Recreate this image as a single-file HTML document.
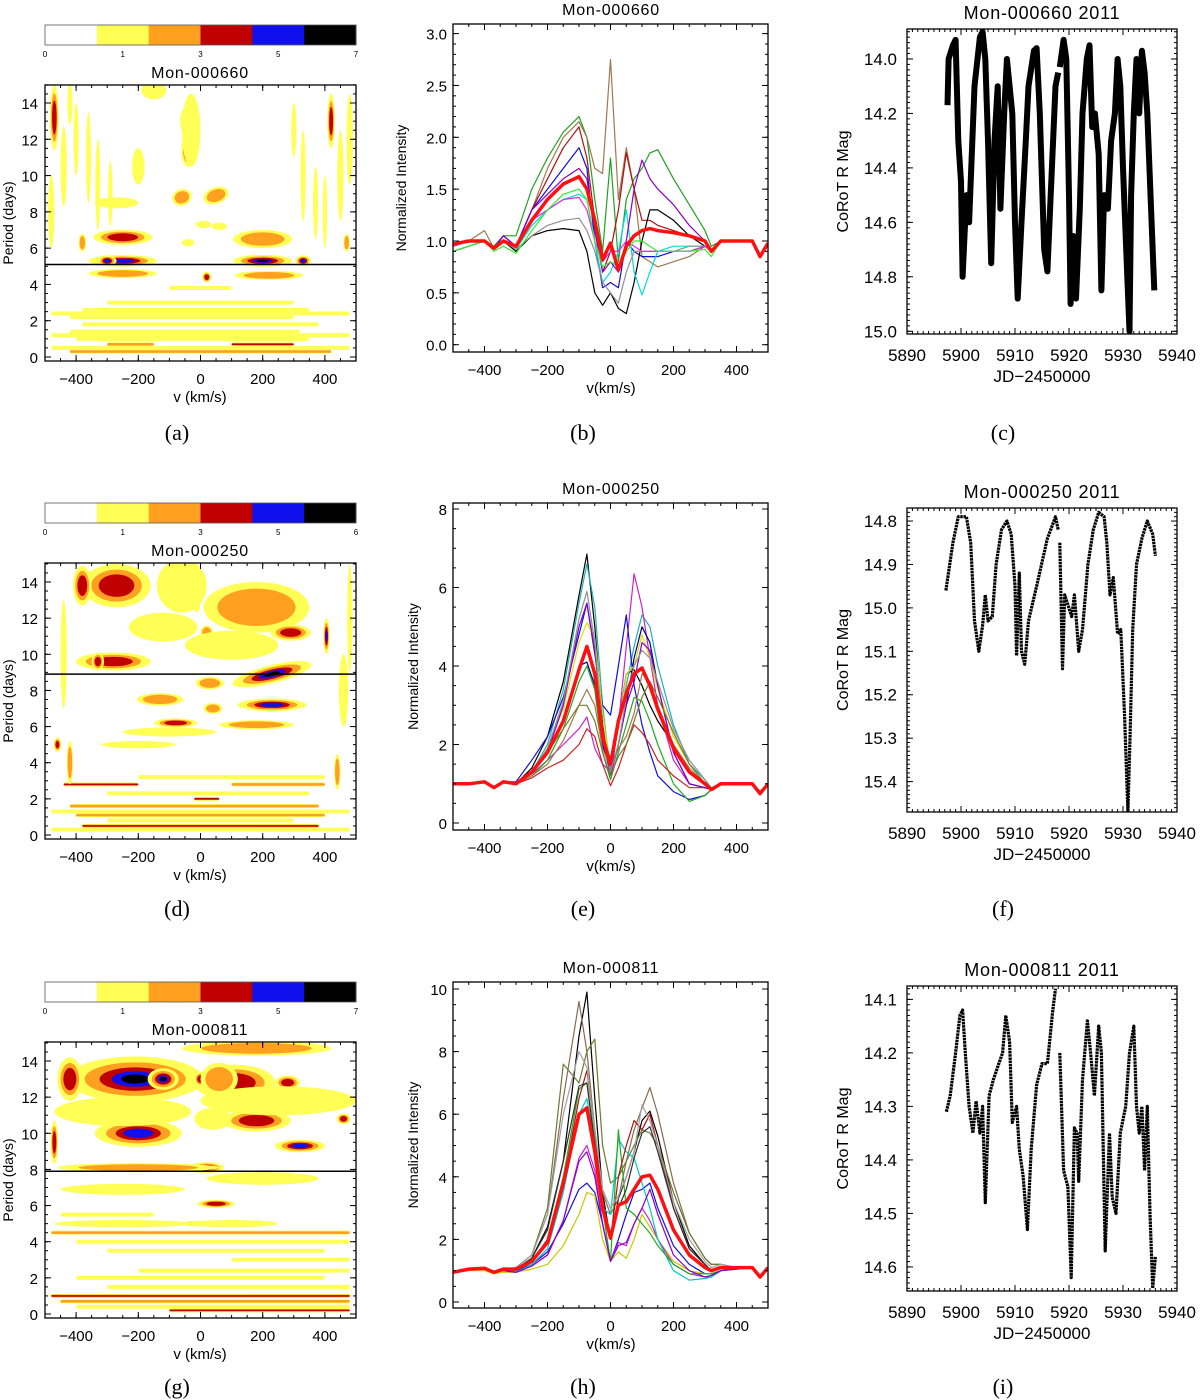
<!DOCTYPE html>
<html><head><meta charset="utf-8"><style>
html,body{margin:0;padding:0;background:#fff;}
svg{display:block;font-family:"Liberation Sans",sans-serif;}
</style></head><body>
<svg id="fig" width="1200" height="1400" viewBox="0 0 1200 1400" xmlns="http://www.w3.org/2000/svg"></svg>
<script>
// ---------------- DATA ----------------
const heatTitles = ["Mon-000660","Mon-000250","Mon-000811"];
const cbarMax = ["7","6","7"];
const cbarLabels = ["0","1","3","5"];
const periodTicks = [0,2,4,6,8,10,12,14];
const vTicks = [-400,-200,0,200,400];
const markPeriods = [5.1, 8.9, 7.9];
// blobs: [v, period, halfwidth(km/s), halfheight(days), level, tilt(deg)]
const blobs660 = [
 [-40,11.35,22,0.85,4,0],[-60,8.8,32,0.45,2,-20],[50,8.9,42,0.45,2,-20],[-45,13.0,20,0.8,1,0],[-15,12.2,14,0.5,2,0],
 [-250,5.3,110,0.32,4,0],[-300,5.3,30,0.3,4,0],[200,5.3,95,0.33,5,0],[330,5.3,25,0.3,4,0],
 [-250,6.6,95,0.42,3,0],[200,6.5,95,0.5,2,0],[-270,8.5,70,0.3,1,0],[-250,4.6,110,0.25,2,0],[220,4.5,110,0.25,2,0],
 [-470,13.2,14,1.8,3,0],[-440,10.5,10,2.2,1,0],[-400,12,8,2,1,0],[-330,9.5,8,2.5,1,0],[-380,6.3,12,0.5,2,0],
 [420,13,12,1.5,3,0],[450,10,10,2.5,1,0],[370,8.5,8,2,1,0],[470,6.3,10,0.5,2,0],[-150,14.7,40,0.5,1,0],
 [-200,10.5,20,1,1,0],[10,7.3,25,0.2,1,0],[60,7.2,25,0.2,1,0],[-40,6.3,20,0.2,1,0],[20,4.4,15,0.3,3,0],[-30,12.5,30,2,1,0],
 [-360,11,8,2.5,1,0],[-290,9,7,1.8,1,0],[-480,8,10,2,1,0],[330,10,8,2.5,1,0],[400,8,7,2,1,0],[480,12,10,2.5,1,0],[-420,14,8,1.2,1,0],[300,12.5,8,1.5,1,0]
];
const blobs250 = [
 [230,8.9,130,0.5,5,-14],[-30,13.6,22,1.3,4,-15],[-270,13.8,110,1.2,3,0],[-380,13.8,30,1.1,3,0],[180,12.6,170,1.4,2,0],
 [290,11.2,65,0.45,3,0],[405,11,10,1,4,0],[230,7.2,110,0.35,4,0],[-80,6.2,70,0.25,3,0],[-130,7.5,75,0.35,2,0],
 [30,8.4,45,0.35,2,0],[-280,9.6,120,0.5,3,0],[-330,9.6,20,0.5,3,0],[-120,11.5,110,0.8,1,0],[20,11.2,20,0.4,2,0],
 [-60,13.8,80,1.5,1,0],[180,6.1,120,0.25,2,0],[-100,5.7,150,0.25,1,0],[-200,5.0,120,0.2,1,0],[100,10.5,150,0.8,1,0],
 [-460,5,12,0.4,3,0],[-440,10,10,3,1,0],[460,8,15,2,1,0],[40,7.0,30,0.3,2,0],[-420,4,10,1.2,2,0],[440,3.5,10,1,2,0],[480,12,8,3,1,0]
];
const blobs811 = [
 [-210,13.0,220,1.25,5,0],[-120,13.0,50,0.6,5,0],[-420,13.0,40,1.2,3,0],[110,12.8,130,1.0,3,0],[280,12.8,40,0.4,3,0],
 [0,13.0,20,0.4,3,0],[-200,10.0,140,0.75,4,0],[20,10.6,30,0.35,3,0],[180,10.7,110,0.6,3,0],[320,9.3,80,0.35,4,0],
 [460,10.8,22,0.3,3,0],[20,8.1,55,0.3,4,0],[-200,8.1,260,0.25,2,0],[50,6.1,60,0.22,3,0],[200,7.5,180,0.35,1,0],
 [180,14.7,240,0.4,2,0],[-250,11.2,220,0.8,1,0],[250,11.8,250,0.8,1,0],[-250,6.9,200,0.3,1,0],
 [-20,5.0,40,0.15,3,0],[-250,5.0,220,0.2,1,0],[100,5.0,150,0.2,1,0],[-470,9.5,12,1.2,3,0],[40,10.8,60,0.6,1,0],[60,13,60,0.9,2,0]
];
// streaks: [period, v0, v1, level]
const streaks660 = [[2.6,-380,350,1],[2.2,-420,300,1],[1.8,-380,380,1],[1.4,-420,320,1],[1.0,-400,350,1],[0.7,100,300,3],[0.7,-300,-150,2],[0.3,-420,420,2],[3.0,-300,300,1],[3.8,-100,100,1],[2.4,-480,480,1],[1.2,-480,480,1],[0.5,-480,480,1]];
const streaks250 = [[2.8,-440,-200,3],[2.8,100,400,2],[3.2,-200,400,1],[2.0,-20,60,3],[1.6,-420,380,2],[1.1,-400,400,2],[0.5,-380,380,3],[2.3,-300,350,1],[0.8,-300,300,1],[1.3,-480,480,1],[0.3,-480,480,1]];
const streaks811 = [[4.5,-480,480,2],[4.0,-400,480,1],[3.5,-300,400,1],[2.0,-400,400,1],[1.0,-480,480,3],[0.7,-450,480,2],[0.4,-400,480,1],[0.2,-100,480,3],[1.5,-300,480,1],[5.5,-450,-150,1],[2.4,-200,480,1],[3.0,100,480,1]];

// spectra
const specV = [-500,-450,-400,-370,-340,-300,-250,-200,-150,-100,-75,-50,-25,0,25,50,75,100,125,150,200,250,300,320,350,400,450,475,500];
const specColors660 = ["#22a022","#a07850","#1010dd","#b01010","#000000","#00dddd","#909090","#8800cc","#ee22ee","#33ee33"];
const spec660 = [
 [0.95,1.0,1.0,0.95,1.05,1.05,1.5,1.8,2.05,2.2,2.0,1.4,0.9,1.8,0.8,1.4,1.6,1.7,1.85,1.88,1.6,1.35,1.1,0.95,1.0,1.0,1.0,0.85,0.98],
 [0.95,1.0,1.1,0.93,1.0,0.95,1.3,1.7,2.0,2.15,2.0,1.7,1.65,2.75,1.4,1.9,1.5,0.85,0.8,0.75,0.8,0.85,0.95,0.9,1.0,1.0,1.0,0.85,0.98],
 [0.95,1.0,1.0,0.93,1.05,0.95,1.3,1.5,1.7,1.9,1.7,1.0,0.55,0.6,0.55,1.0,0.9,0.85,0.85,0.85,0.9,0.9,0.95,0.9,1.0,1.0,1.0,0.85,0.98],
 [0.95,1.0,1.0,0.93,1.0,0.95,1.3,1.6,1.9,2.1,1.8,1.2,0.7,0.9,1.3,1.85,1.5,1.2,1.2,1.15,1.1,1.05,1.0,0.9,1.0,1.0,1.0,0.85,0.98],
 [0.9,0.95,1.0,0.93,1.0,0.9,1.05,1.1,1.12,1.1,0.9,0.5,0.38,0.5,0.35,0.3,0.6,1.0,1.3,1.3,1.2,1.05,0.95,0.9,1.0,1.0,1.0,0.85,0.98],
 [0.95,1.0,1.0,0.93,1.0,0.92,1.15,1.3,1.4,1.45,1.4,1.0,0.6,0.7,0.9,1.3,0.7,0.48,0.7,0.9,0.95,0.95,0.95,0.9,1.0,1.0,1.0,0.85,0.98],
 [0.95,1.0,1.0,0.93,1.0,0.92,1.05,1.15,1.2,1.22,1.1,0.9,0.6,0.5,0.4,0.7,0.9,0.9,0.9,0.9,0.9,0.95,0.95,0.9,1.0,1.0,1.0,0.85,0.98],
 [0.95,1.0,1.0,0.93,1.05,0.95,1.3,1.45,1.6,1.7,1.6,1.1,0.7,0.8,0.7,1.0,1.5,1.78,1.6,1.5,1.35,1.15,1.0,0.9,1.0,1.0,1.0,0.85,0.98],
 [0.95,1.0,1.0,0.93,1.0,0.95,1.2,1.3,1.4,1.42,1.3,1.0,0.8,0.9,0.9,1.0,0.95,0.9,0.9,0.9,0.9,0.9,0.95,0.9,1.0,1.0,1.0,0.85,0.98],
 [0.9,0.95,1.0,0.9,0.95,0.88,1.1,1.3,1.45,1.5,1.4,1.0,0.75,0.8,0.75,0.9,1.0,1.0,0.95,0.9,0.9,0.9,0.92,0.85,1.0,1.0,1.0,0.85,0.98]
];
const specMean660 = [0.97,1.0,1.0,0.93,1.0,0.95,1.2,1.4,1.55,1.62,1.5,1.2,0.82,0.98,0.72,0.95,1.05,1.1,1.12,1.1,1.08,1.05,1.0,0.9,1.0,1.0,1.0,0.85,0.98];

const specColors250 = ["#000000","#20b0b0","#cc22cc","#1010dd","#000088","#dddd00","#22aa22","#a07850","#cc2222","#8800cc","#909090","#7a7a30"];
const spec250 = [
 [1.0,1.0,1.05,0.9,1.05,1.0,1.4,2.2,3.6,5.8,6.85,5.0,2.5,1.2,2.5,3.8,3.9,3.5,3.0,2.6,2.0,1.3,1.0,0.85,1.0,1.0,1.0,0.8,1.0],
 [1.0,1.0,1.05,0.9,1.05,1.0,1.3,2.0,3.4,5.6,6.6,5.5,3.0,1.3,2.5,3.5,4.5,5.3,5.0,4.0,2.5,1.5,1.1,0.9,1.0,1.0,1.0,0.8,1.0],
 [1.0,1.0,1.05,0.9,1.05,1.0,1.25,1.6,2.0,2.4,2.7,1.9,1.5,1.3,2.5,4.5,6.35,5.5,4.2,3.0,1.6,1.0,0.9,0.85,1.0,1.0,1.0,0.8,1.0],
 [1.0,1.0,1.05,0.9,1.05,1.05,1.6,2.2,3.2,4.8,5.6,4.3,3.0,2.75,4.0,5.3,3.5,2.5,1.8,1.2,0.8,0.6,0.7,0.85,1.0,1.0,1.0,0.8,1.0],
 [1.0,1.0,1.05,0.9,1.05,1.0,1.3,1.8,2.6,4.0,4.1,3.5,2.0,1.3,2.0,3.0,4.2,5.0,4.6,3.5,1.8,1.0,0.9,0.85,1.0,1.0,1.0,0.8,1.0],
 [1.0,1.0,1.05,0.9,1.05,1.0,1.3,1.9,2.9,4.6,5.1,4.7,2.8,1.4,2.4,3.8,4.0,4.8,4.2,3.4,2.2,1.5,1.0,0.85,1.0,1.0,1.0,0.8,1.0],
 [1.0,1.0,1.05,0.9,1.05,1.0,1.2,1.6,2.4,3.6,4.0,3.4,1.8,1.1,1.8,2.5,3.2,3.1,2.6,2.0,1.0,0.55,0.7,0.85,1.0,1.0,1.0,0.8,1.0],
 [1.0,1.0,1.05,0.9,1.05,1.0,1.2,1.5,2.1,3.0,3.4,3.0,1.9,1.4,1.9,2.2,2.8,3.8,3.6,3.0,2.0,1.4,1.0,0.85,1.0,1.0,1.0,0.8,1.0],
 [1.0,1.0,1.05,0.9,1.05,1.0,1.15,1.4,1.6,2.0,2.4,2.2,1.5,0.95,1.4,2.0,2.5,2.3,2.0,1.6,1.2,0.9,0.9,0.85,1.0,1.0,1.0,0.8,1.0],
 [1.0,1.0,1.05,0.9,1.05,1.0,1.3,1.8,3.0,5.0,5.6,4.4,2.4,1.2,2.0,3.0,3.6,4.6,4.4,3.5,1.8,1.0,0.9,0.85,1.0,1.0,1.0,0.8,1.0],
 [1.0,1.0,1.05,0.9,1.05,1.0,1.3,1.9,3.1,5.2,5.9,4.6,2.4,1.3,2.0,3.2,4.0,4.4,4.2,3.6,2.4,1.6,1.1,0.85,1.0,1.0,1.0,0.8,1.0],
 [1.0,1.0,1.05,0.9,1.05,1.0,1.3,1.8,2.4,3.0,3.0,2.6,1.8,1.2,1.7,2.0,2.6,3.2,3.6,3.2,2.3,1.5,1.0,0.85,1.0,1.0,1.0,0.8,1.0]
];
const specMean250 = [1.0,1.0,1.05,0.9,1.05,1.0,1.3,1.8,2.6,3.9,4.5,3.8,2.2,1.5,2.6,3.3,3.8,3.95,3.5,2.9,1.9,1.3,1.0,0.85,1.0,1.0,1.0,0.75,1.0];

const specColors811 = ["#000000","#8a6a50","#6a7a30","#1010dd","#c8c800","#cc22cc","#00c8c8","#22aa22","#b01010","#8800cc","#a0a0a0","#303030"];
const spec811 = [
 [0.95,1.05,1.08,0.95,1.05,1.05,1.4,2.4,4.5,8.5,9.9,6.5,3.5,2.0,3.3,4.0,4.8,5.8,6.1,5.3,3.2,1.8,1.2,1.0,1.1,1.1,1.1,0.8,1.1],
 [0.95,1.05,1.1,0.95,1.05,1.1,1.5,2.8,6.5,9.6,8.0,5.5,3.5,2.8,3.3,4.5,5.5,6.2,6.85,6.0,3.8,2.2,1.4,1.2,1.2,1.1,1.1,0.8,1.1],
 [0.95,1.05,1.1,0.95,1.05,1.1,1.5,3.0,7.6,7.0,8.0,8.4,5.0,3.8,4.0,4.5,5.0,5.5,5.4,5.0,3.5,2.2,1.4,1.2,1.2,1.1,1.1,0.8,1.1],
 [0.95,1.05,1.08,0.95,1.0,1.0,1.2,1.6,2.5,3.6,3.8,3.5,2.5,1.3,2.0,2.8,3.5,3.6,3.8,3.0,1.8,1.2,0.9,0.9,1.0,1.1,1.1,0.8,1.1],
 [0.95,1.0,1.0,0.9,0.95,0.95,1.05,1.2,1.8,2.8,3.5,3.4,2.0,1.3,1.6,1.4,2.0,2.8,2.4,2.0,1.3,1.0,0.9,0.9,1.0,1.05,1.1,0.8,1.1],
 [0.95,1.05,1.05,0.95,1.0,0.95,1.15,1.5,2.6,4.6,5.0,4.2,2.5,1.3,1.9,1.8,2.5,3.0,2.6,2.0,1.2,0.9,0.8,0.8,1.0,1.05,1.1,0.8,1.1],
 [0.95,1.05,1.05,0.95,1.0,0.95,1.2,1.7,3.5,6.0,6.5,5.0,3.0,2.8,5.2,4.8,4.6,3.8,3.0,2.0,1.0,0.7,0.75,0.8,1.0,1.05,1.1,0.8,1.1],
 [0.95,1.05,1.05,0.95,1.0,1.0,1.3,2.0,4.0,6.8,7.0,5.2,3.0,1.3,5.5,3.0,2.8,2.5,2.2,1.8,1.2,0.9,0.9,0.9,1.0,1.1,1.1,0.8,1.1],
 [0.95,1.05,1.08,0.95,1.05,1.05,1.3,2.0,3.8,6.5,7.4,5.5,3.2,2.0,4.0,5.0,5.8,5.5,6.0,5.0,3.0,1.7,1.2,1.0,1.1,1.1,1.1,0.8,1.1],
 [0.95,1.05,1.05,0.95,1.0,0.95,1.15,1.5,2.6,4.5,4.8,4.0,2.5,1.3,1.8,1.9,2.5,3.0,3.6,2.8,1.5,1.0,0.8,0.85,1.0,1.05,1.1,0.8,1.1],
 [0.95,1.05,1.1,0.95,1.05,1.1,1.5,2.8,6.0,8.0,7.5,5.5,3.6,3.0,3.4,4.0,4.8,6.3,5.8,5.0,3.2,2.0,1.3,1.1,1.2,1.1,1.1,0.8,1.1],
 [0.95,1.05,1.08,0.95,1.05,1.05,1.4,2.3,4.5,6.9,7.0,5.0,3.0,2.0,3.0,3.6,4.6,5.4,5.6,4.8,3.0,1.7,1.2,1.0,1.1,1.1,1.1,0.8,1.1]
];
const specMean811 = [0.95,1.05,1.08,0.95,1.05,1.05,1.3,1.9,3.8,6.0,6.2,4.8,3.0,2.05,3.1,3.2,3.6,4.0,4.05,3.6,2.3,1.5,1.1,1.0,1.1,1.1,1.1,0.8,1.1];

// light curves: JD, mag (null JD = gap)
const lc660JD = [5897.5,5897.7,5898.5,5899,5899.5,5900,5900.3,5901,5901.5,5902,5902.5,5903.5,5904,5904.5,5905,5905.6,5906.2,5906.8,5907.3,5908,5908.5,5909.5,5910,5910.5,5911.2,5912,5912.5,5913.5,5914,5914.6,5915.4,5916,5916.5,5917.5,5918,null,5918.3,5919,5919.5,5920,5920.3,5920.8,5921.3,5922,5922.5,5923.3,5923.8,5924.3,5924.8,5925.5,5926,5926.5,5927.2,5927.8,5928.5,5929,5929.5,5930,5930.8,5931.2,5931.5,5932,5932.5,5933,5933.5,5934,5934.5,5935.3,5935.8];
const lc660Mag = [14.17,14.0,13.95,13.93,14.3,14.45,14.8,14.5,14.6,14.35,14.1,13.92,13.9,14.0,14.3,14.75,14.3,14.1,14.55,14.2,14.0,14.2,14.6,14.88,14.6,14.3,14.1,13.97,13.96,14.2,14.7,14.78,14.55,14.1,14.05,null,14.03,13.93,14.0,14.5,14.9,14.65,14.88,14.55,14.2,14.0,13.95,14.25,14.2,14.35,14.85,14.5,14.55,14.3,14.2,14.0,14.1,14.4,14.8,15.0,14.5,14.2,14.0,14.2,13.97,14.05,14.2,14.6,14.85];
const lc250JD = [5897.2,5898.5,5899.5,5901,5901.8,5902.5,5903.3,5904,5904.5,5905,5905.8,5906.5,5907.5,5908.5,5909.3,5910,5910.3,5910.8,5911.2,5911.8,5912.5,5914,5916,5917.5,5918,null,5918.3,5918.8,5919.2,5920.5,5921,5921.8,5922.5,5923.5,5924.5,5925.5,5926.5,5927,5927.6,5928.2,5929,5929.6,5930.3,5930.9,5931.3,5931.8,5932.5,5933.5,5934.5,5935.5,5936];
const lc250Mag = [14.96,14.85,14.79,14.79,14.85,15.03,15.1,15.04,14.97,15.03,15.02,14.9,14.82,14.8,14.83,14.95,15.11,14.92,15.1,15.13,15.03,14.95,14.84,14.79,14.82,null,14.85,15.14,14.97,15.02,14.97,15.1,15.05,14.9,14.82,14.78,14.79,14.85,14.97,14.93,15.06,15.05,15.25,15.47,15.3,15.05,14.9,14.84,14.8,14.83,14.88];
const lc811JD = [5897.3,5898,5899,5899.8,5900.3,5900.8,5901.5,5902.2,5902.8,5903.5,5904,5904.5,5905.2,5906,5907,5907.7,5908.3,5909,5909.5,5910.3,5910.8,5911.5,5912.3,5913,5914,5915,5916,5917,5917.5,null,5918.3,5919,5919.8,5920.4,5921,5921.5,5921.8,5922.5,5923.4,5924,5924.7,5925.5,5926,5926.7,5927.5,5928,5928.7,5929.5,5930.5,5931.2,5932,5932.5,5933,5933.5,5934,5934.5,5935,5935.5,5936];
const lc811Mag = [14.31,14.28,14.2,14.13,14.12,14.2,14.3,14.35,14.29,14.35,14.3,14.48,14.28,14.25,14.22,14.2,14.13,14.18,14.33,14.3,14.38,14.43,14.53,14.38,14.26,14.22,14.22,14.12,14.08,null,14.2,14.42,14.45,14.62,14.34,14.35,14.44,14.25,14.14,14.2,14.28,14.15,14.2,14.57,14.35,14.47,14.5,14.35,14.3,14.2,14.15,14.3,14.35,14.3,14.42,14.3,14.5,14.64,14.58];
const lcTicks660 = [14.0,14.2,14.4,14.6,14.8,15.0];
const lcTicks250 = [14.8,14.9,15.0,15.1,15.2,15.3,15.4];
const lcTicks811 = [14.1,14.2,14.3,14.4,14.5,14.6];
const jdTicks = [5890,5900,5910,5920,5930,5940];
const captions = ["(a)","(b)","(c)","(d)","(e)","(f)","(g)","(h)","(i)"];

// ---------------- RENDER ----------------
const NS="http://www.w3.org/2000/svg";
const svg=document.getElementById('fig');
function el(tag,attrs,parent){const e=document.createElementNS(NS,tag);for(const k in attrs)e.setAttribute(k,attrs[k]);(parent||svg).appendChild(e);return e;}
function txt(s,x,y,size,anchor,parent,extra){const t=el('text',Object.assign({x:x,y:y,'font-size':size,'text-anchor':anchor||'middle',fill:'#000'},extra||{}),parent);t.textContent=s;return t;}
const levelColors=["#ffffff","#ffff55","#ffa020","#c00000","#1010ee","#000000"];
const levelScale=[1,1,0.74,0.52,0.34,0.2];

function ticksBox(g,x0,y0,x1,y1,xt,yt,xminor,yminor){
  xt.forEach(x=>{el('line',{x1:x,y1:y1,x2:x,y2:y1-6,stroke:'#000','stroke-width':1},g);el('line',{x1:x,y1:y0,x2:x,y2:y0+6,stroke:'#000','stroke-width':1},g);});
  yt.forEach(y=>{el('line',{x1:x0,y1:y,x2:x0+6,y2:y,stroke:'#000','stroke-width':1},g);el('line',{x1:x1,y1:y,x2:x1-6,y2:y,stroke:'#000','stroke-width':1},g);});
  xminor.forEach(x=>{el('line',{x1:x,y1:y1,x2:x,y2:y1-3,stroke:'#000','stroke-width':1},g);el('line',{x1:x,y1:y0,x2:x,y2:y0+3,stroke:'#000','stroke-width':1},g);});
  yminor.forEach(y=>{el('line',{x1:x0,y1:y,x2:x0+3,y2:y,stroke:'#000','stroke-width':1},g);el('line',{x1:x1,y1:y,x2:x1-3,y2:y,stroke:'#000','stroke-width':1},g);});
  el('rect',{x:x0,y:y0,width:x1-x0,height:y1-y0,fill:'none',stroke:'#000','stroke-width':1.3},g);
}

const heatBlobs=[blobs660,blobs250,blobs811];
const heatStreaks=[streaks660,streaks250,streaks811];
const rowTopHeat=[85,563,1042], rowP0=[357,835,1314], rowP14=[103,582,1061], cbarY=[25,503,982];
for(let r=0;r<3;r++){
  const g=el('g',{});
  
  
  const X0=45,X1=356,Y0=rowTopHeat[r],Y1=rowTopHeat[r]+276;
  const xs=v=>X0+(v+500)/1000*(X1-X0);
  const sc=(rowP0[r]-rowP14[r])/14;
  const ys=p=>rowP0[r]-p*sc;
  const cb=el('g',{},g);
  
  
  for(let k=0;k<6;k++){el('rect',{x:X0+k*(X1-X0)/6,y:cbarY[r],width:(X1-X0)/6+0.5,height:20,fill:levelColors[k]},cb);}
  el('rect',{x:X0,y:cbarY[r],width:X1-X0,height:20,fill:'none',stroke:'#555','stroke-width':0.8},cb);
  const cbl=cbarLabels.concat([cbarMax[r]]);
  cbl.forEach((s,i)=>{const xx=[X0,X0+(X1-X0)/4,X0+(X1-X0)/2,X0+3*(X1-X0)/4,X1][i];txt(s,xx,cbarY[r]+32,8,'middle',cb);});
  const ttl=txt(heatTitles[r],200,cbarY[r]+53,16,'middle',g,{'letter-spacing':'0.8'});
  
  
  const cid='clipH'+r;
  const cp=el('clipPath',{id:cid},g);el('rect',{x:X0,y:Y0,width:X1-X0,height:Y1-Y0},cp);
  const pl=el('g',{'clip-path':'url(#'+cid+')'},g);
  el('rect',{x:X0,y:Y0,width:X1-X0,height:Y1-Y0,fill:'#fff'},pl);
  heatStreaks[r].forEach(s=>{
    for(let k=1;k<=s[3];k++){
      const h=[0,4,2.6,1.6][k];
      const st=el('rect',{x:xs(s[1]),y:ys(s[0])-h/2,width:xs(s[2])-xs(s[1]),height:h,fill:levelColors[k],rx:h/2},pl);
      
      
    }
  });
  heatBlobs[r].forEach(b=>{
    const cx=xs(b[0]),cy=ys(b[1]);
    for(let k=1;k<=b[4];k++){
      const e=el('ellipse',{cx:cx,cy:cy,rx:b[2]*(X1-X0)/1000*levelScale[k],ry:b[3]*sc*levelScale[k],fill:levelColors[k],transform:'rotate('+b[5]+' '+cx+' '+cy+')'},pl);
      
      
    }
  });
  const ml=el('line',{x1:X0,x2:X1,y1:ys(markPeriods[r]),y2:ys(markPeriods[r]),stroke:'#000','stroke-width':1.5},g);
  
  
  const minX=[];for(let v=-500;v<=500;v+=50)minX.push(xs(v));
  const minY=[];for(let p=0;p<=15;p+=0.5)minY.push(ys(p));
  ticksBox(g,X0,Y0,X1,Y1,vTicks.map(xs),periodTicks.map(ys),minX,minY);
  periodTicks.forEach(p=>txt(String(p),38,ys(p)+6,15,'end',g));
  vTicks.forEach(v=>txt(String(v).replace('-','\u2212'),xs(v),Y1+23,15,'middle',g));
  txt('v  (km/s)',200,Y1+41,15,'middle',g,{'xml:space':'preserve'});
  const yl=txt('Period (days)',0,0,14,'middle',g,{transform:'translate(13,'+((Y0+Y1)/2)+') rotate(-90)'});
  
  
}

// spectra
const specSets=[spec660,spec250,spec811], specCols=[specColors660,specColors250,specColors811], specMeans=[specMean660,specMean250,specMean811];
const specTitles=heatTitles;
const spTop=[24,503,982], spBot=[352,830,1308], spZeroY=[344.7,823,1302], spUnit=[103.7,39.25,31.3];
const spTicks=[[0,0.5,1,1.5,2,2.5,3],[0,2,4,6,8],[0,2,4,6,8,10]];
const spTickLabel=[[ "0.0","0.5","1.0","1.5","2.0","2.5","3.0"],["0","2","4","6","8"],["0","2","4","6","8","10"]];
const spMinor=[0.1,0.5,0.5];
for(let r=0;r<3;r++){
  const g=el('g',{});
  
  
  const X0=453,X1=768,Y0=spTop[r],Y1=spBot[r];
  const xs=v=>X0+(v+500)/1000*(X1-X0);
  const ys=y=>spZeroY[r]-y*spUnit[r];
  const ttl=txt(specTitles[r],611,Y0-9,16,'middle',g,{'letter-spacing':'0.8'});
  
  
  const cid='clipS'+r;
  const cp=el('clipPath',{id:cid},g);el('rect',{x:X0,y:Y0,width:X1-X0,height:Y1-Y0},cp);
  const pl=el('g',{'clip-path':'url(#'+cid+')'},g);
  specSets[r].forEach((s,i)=>{
    const d=s.map((y,j)=>(j?'L':'M')+xs(specV[j]).toFixed(1)+','+ys(y).toFixed(1)).join('');
    const p=el('path',{d:d,fill:'none',stroke:specCols[r][i],'stroke-width':1.2,'stroke-linejoin':'round'},pl);
    
    
  });
  const dm=specMeans[r].map((y,j)=>(j?'L':'M')+xs(specV[j]).toFixed(1)+','+ys(y).toFixed(1)).join('');
  const mp=el('path',{d:dm,fill:'none',stroke:'#ff1010','stroke-width':3.5,'stroke-linejoin':'round'},pl);
  
  
  const minX=[];for(let v=-500;v<=500;v+=50)minX.push(xs(v));
  const minY=[];for(let y=0;y<=spTicks[r][spTicks[r].length-1]+0.01;y+=spMinor[r])minY.push(ys(y));
  ticksBox(g,X0,Y0,X1,Y1,vTicks.map(xs),spTicks[r].map(ys),minX,minY);
  spTicks[r].forEach((y,i)=>txt(spTickLabel[r][i],447,ys(y)+6,15,'end',g));
  vTicks.forEach(v=>txt(String(v).replace('-','\u2212'),xs(v),Y1+23,15,'middle',g));
  txt('v(km/s)',611,Y1+41,15,'middle',g);
  const yl=txt('Normalized Intensity',0,0,14,'middle',g,{transform:'translate('+(r==0?406:418)+','+((Y0+Y1)/2)+') rotate(-90)'});
  
  
}

// light curves
const lcJD=[lc660JD,lc250JD,lc811JD], lcMag=[lc660Mag,lc250Mag,lc811Mag], lcTicks=[lcTicks660,lcTicks250,lcTicks811];
const lcTop=[29,508,986], lcBot=[334,812,1291], lcRange=[[13.89,15.01],[14.77,15.47],[14.075,14.645]];
const lcMinor=[0.02,0.01,0.01], lcDec=[1,1,1];
for(let r=0;r<3;r++){
  const g=el('g',{});
  
  
  const X0=907,X1=1177,Y0=lcTop[r],Y1=lcBot[r];
  const xs=j=>X0+(j-5890)/50*(X1-X0);
  const ys=m=>Y0+(m-lcRange[r][0])/(lcRange[r][1]-lcRange[r][0])*(Y1-Y0);
  const ttl=txt(heatTitles[r]+'  2011',1042,Y0-10,18,'middle',g,{'letter-spacing':'0.8','xml:space':'preserve'});
  
  
  const cid='clipL'+r;
  const cp=el('clipPath',{id:cid},g);el('rect',{x:X0,y:Y0,width:X1-X0,height:Y1-Y0},cp);
  const pl=el('g',{'clip-path':'url(#'+cid+')'},g);
  let d='',pen=false;
  lcJD[r].forEach((j,i)=>{if(j===null){pen=false;return;}d+=(pen?'L':'M')+xs(j).toFixed(1)+','+ys(lcMag[r][i]).toFixed(1);pen=true;});
  const lp=el('path',{d:d,fill:'none',stroke:'#000','stroke-width':r==0?6:3.2,'stroke-linejoin':'round','stroke-dasharray':r==0?'none':'2.5 0.7'},pl);
  
  
  const minX=[];for(let j=5890;j<=5940;j+=1)minX.push(xs(j));
  const minY=[];for(let m=Math.ceil(lcRange[r][0]/lcMinor[r])*lcMinor[r];m<=lcRange[r][1];m+=lcMinor[r])minY.push(ys(m));
  ticksBox(g,X0,Y0,X1,Y1,jdTicks.map(xs),lcTicks[r].map(ys),minX,minY);
  lcTicks[r].forEach(m=>txt(m.toFixed(lcDec[r]),897,ys(m)+6,17,'end',g));
  jdTicks.forEach(j=>txt(String(j),xs(j),Y1+27,17,'middle',g));
  txt('JD\u22122450000',1042,Y1+48,17,'middle',g);
  const yl=txt('CoRoT R Mag',0,0,16,'middle',g,{transform:'translate(848,'+((Y0+Y1)/2)+') rotate(-90)'});
  
  
}

// captions
const capX=[177,583,1003], capY=[440,916,1394];
captions.forEach((c,i)=>{
  const t=txt(c,capX[i%3],capY[Math.floor(i/3)],22,'middle',svg,{'font-family':'"Liberation Serif",serif'});
  
  
});
</script>
</body></html>
